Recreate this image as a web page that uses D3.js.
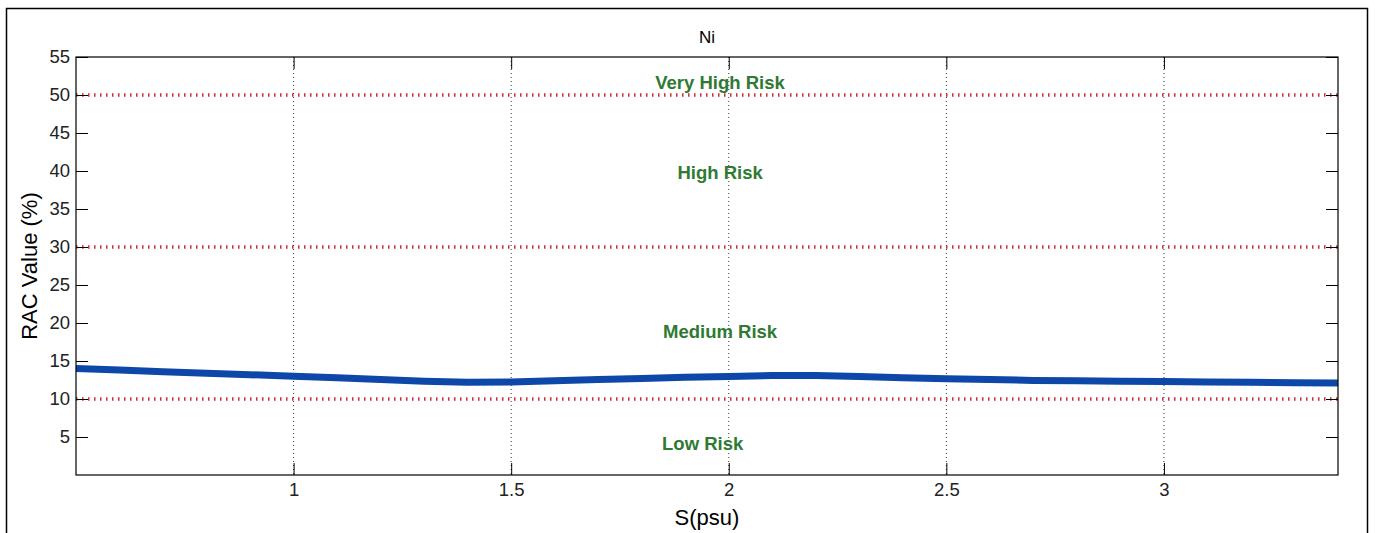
<!DOCTYPE html>
<html>
<head>
<meta charset="utf-8">
<script src="https://cdn.jsdelivr.net/npm/d3@7"></script>
<style>
  body { margin: 0; background: #fff; }
  svg { display: block; font-family: "Liberation Sans", Arial, sans-serif; }
</style>
</head>
<body>
<div id="chart"></div>
<script>
/* DATA */
const salinity = [0.5, 0.6, 0.7, 0.8, 0.9, 1.0, 1.1, 1.2, 1.3, 1.4, 1.5, 1.6, 1.7, 1.8, 1.9,
                  2.0, 2.1, 2.2, 2.3, 2.4, 2.5, 2.6, 2.7, 2.8, 2.9, 3.0, 3.1, 3.2, 3.3, 3.4];
const racValue = [14.0, 13.8, 13.6, 13.4, 13.2, 13.0, 12.8, 12.55, 12.35, 12.2, 12.25, 12.4, 12.55, 12.7, 12.85,
                  12.95, 13.1, 13.1, 12.95, 12.8, 12.65, 12.55, 12.45, 12.4, 12.35, 12.3, 12.25, 12.2, 12.15, 12.1];
const riskThresholds = [10, 30, 50];
const riskNames = ["Very High Risk", "High Risk", "Medium Risk", "Low Risk"];
const riskLabelX = [1.98, 1.98, 1.98, 1.94];
const riskLabelY = [50.8, 39, 18, 3.3];
const xTicks = [1, 1.5, 2, 2.5, 3];
const yTicks = [5, 10, 15, 20, 25, 30, 35, 40, 45, 50, 55];

/* CONSTANTS */
const width = 1375, height = 533;
const margin = {top: 57, right: 37, bottom: 58, left: 76};
const innerWidth = width - margin.left - margin.right,
      innerHeight = height - margin.top - margin.bottom;

const svg = d3.select("#chart").append("svg")
  .attr("width", width)
  .attr("height", height);

// outer figure frame
svg.append("rect")
  .attr("x", 6.5).attr("y", 8.5)
  .attr("width", 1361).attr("height", 540)
  .attr("fill", "#fff")
  .attr("stroke", "#000")
  .attr("stroke-width", 1.5);

const g = svg.append("g")
  .attr("transform", `translate(${margin.left},${margin.top})`);

/* SCALES */
const xScale = d3.scaleLinear().domain([0.5, 3.4]).range([0, innerWidth]);
const yScale = d3.scaleLinear().domain([0, 55]).range([innerHeight, 0]);

// vertical dotted grid
g.selectAll("line.grid")
  .data(xTicks)
  .join("line")
  .attr("class", "grid")
  .attr("x1", d => xScale(d)).attr("x2", d => xScale(d))
  .attr("y1", 0).attr("y2", innerHeight)
  .attr("stroke", "#333")
  .attr("stroke-width", 1)
  .attr("stroke-dasharray", "1 3");

// risk threshold lines
g.selectAll("line.risk")
  .data(riskThresholds)
  .join("line")
  .attr("class", "risk")
  .attr("x1", 0).attr("x2", innerWidth)
  .attr("y1", d => yScale(d)).attr("y2", d => yScale(d))
  .attr("stroke", "#c8303a")
  .attr("stroke-width", 3.5)
  .attr("stroke-dasharray", "1.5 4.5");

// RAC line
const line = d3.line()
  .x((d, i) => xScale(salinity[i]))
  .y(d => yScale(d));

g.append("path")
  .datum(racValue)
  .attr("d", line)
  .attr("fill", "none")
  .attr("stroke", "#0d47a8")
  .attr("stroke-width", 7)
  .attr("stroke-linejoin", "round");

// risk labels
g.selectAll("text.risk-label")
  .data(riskNames)
  .join("text")
  .attr("class", "risk-label")
  .attr("x", (d, i) => xScale(riskLabelX[i]))
  .attr("y", (d, i) => yScale(riskLabelY[i]))
  .attr("text-anchor", "middle")
  .attr("fill", "#2e7a32")
  .attr("font-size", "18.5px")
  .attr("font-weight", "bold")
  .text(d => d);

/* AXES */
const tickFmt = d3.format("");
const axisStyle = sel => {
  sel.attr("font-size", null).attr("font-family", null);
  sel.select(".domain").remove();
  sel.selectAll(".tick line").attr("stroke", "#000");
  sel.selectAll(".tick text")
    .attr("fill", "#222")
    .style("font-size", "18.5px")
    .style("font-family", "'Liberation Sans', Arial, sans-serif");
};

g.append("g")
  .attr("transform", `translate(0,${innerHeight})`)
  .call(d3.axisBottom(xScale).tickValues(xTicks).tickFormat(tickFmt).tickSize(-12).tickPadding(8))
  .call(axisStyle);

g.append("g")
  .call(d3.axisTop(xScale).tickValues(xTicks).tickSize(-12).tickFormat(""))
  .call(axisStyle);

g.append("g")
  .call(d3.axisLeft(yScale).tickValues(yTicks).tickFormat(tickFmt).tickSize(-12).tickPadding(6))
  .call(axisStyle);

g.append("g")
  .attr("transform", `translate(${innerWidth},0)`)
  .call(d3.axisRight(yScale).tickValues(yTicks).tickSize(-12).tickFormat(""))
  .call(axisStyle);

// plot box
g.append("rect")
  .attr("width", innerWidth)
  .attr("height", innerHeight)
  .attr("fill", "none")
  .attr("stroke", "#000")
  .attr("stroke-width", 1.2);

/* LABELS */
g.append("text")
  .attr("x", innerWidth / 2)
  .attr("y", -14)
  .attr("text-anchor", "middle")
  .attr("font-size", "17px")
  .text("Ni");

g.append("text")
  .attr("x", innerWidth / 2)
  .attr("y", innerHeight + 50)
  .attr("text-anchor", "middle")
  .attr("font-size", "22px")
  .text("S(psu)");

g.append("text")
  .attr("transform", `translate(${-margin.left + 37},${innerHeight / 2}) rotate(-90)`)
  .attr("text-anchor", "middle")
  .attr("font-size", "22px")
  .text("RAC Value (%)");
</script>
</body>
</html>
